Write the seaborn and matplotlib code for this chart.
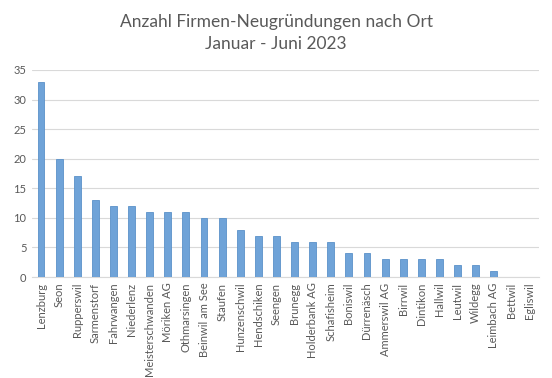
import matplotlib
matplotlib.use("Agg")
import matplotlib.pyplot as plt
import seaborn as sns
import pandas as pd

orte = ["Lenzburg", "Seon", "Rupperswil", "Sarmenstorf", "Fahrwangen", "Niederlenz",
        "Meisterschwanden", "Möriken AG", "Othmarsingen", "Beinwil am See", "Staufen",
        "Hunzenschwil", "Hendschiken", "Seengen", "Brunegg", "Holderbank AG", "Schafisheim",
        "Boniswil", "Dürrenäsch", "Ammerswil AG", "Birrwil", "Dintikon", "Hallwil",
        "Leutwil", "Wildegg", "Leimbach AG", "Bettwil", "Egliswil"]
anzahl = [33, 20, 17, 13, 12, 12, 11, 11, 11, 10, 10, 8, 7, 7, 6, 6, 6, 4, 4, 3, 3, 3, 3,
          2, 2, 1, 0, 0]
yticks = [0, 5, 10, 15, 20, 25, 30, 35]

sns.set_theme(style="white")
plt.rcParams['font.family'] = ['Lato', 'DejaVu Sans']

df = pd.DataFrame({"Ort": orte, "Anzahl": anzahl})

fig = plt.figure(figsize=(5.52, 3.78), dpi=100)
ax = fig.add_axes([32/552, 1-277/378, (539-32)/552, (277-70)/378])
sns.barplot(data=df, x="Ort", y="Anzahl", color="#6FA3D8", width=0.38,
            saturation=1, edgecolor="#5B91C9", linewidth=0.6, ax=ax, zorder=3)
ax.set_ylim(0, 35)
ax.set_xlim(-0.5, len(orte) - 0.5)
ax.set_yticks(yticks)
ax.set_yticklabels([str(t) for t in yticks], color="#595959", fontsize=8)
ax.set_xticks(range(len(orte)))
ax.set_xticklabels(orte, rotation=90, color="#595959", fontsize=8)
ax.tick_params(axis="both", length=0, pad=4)
ax.grid(axis="y", color="#D9D9D9", linewidth=0.8, zorder=0)
ax.set_xlabel("")
ax.set_ylabel("")
for s in ["top", "right", "left"]:
    ax.spines[s].set_visible(False)
ax.spines["bottom"].set_color("#D9D9D9")
ax.spines["bottom"].set_linewidth(0.8)
fig.text(0.5, 1-22/378, "Anzahl Firmen-Neugründungen nach Ort", ha="center", va="center",
         fontsize=12.5, color="#595959")
fig.text(0.5, 1-44/378, "Januar - Juni 2023", ha="center", va="center",
         fontsize=12.5, color="#595959")
fig.savefig("out.png", dpi=100)
